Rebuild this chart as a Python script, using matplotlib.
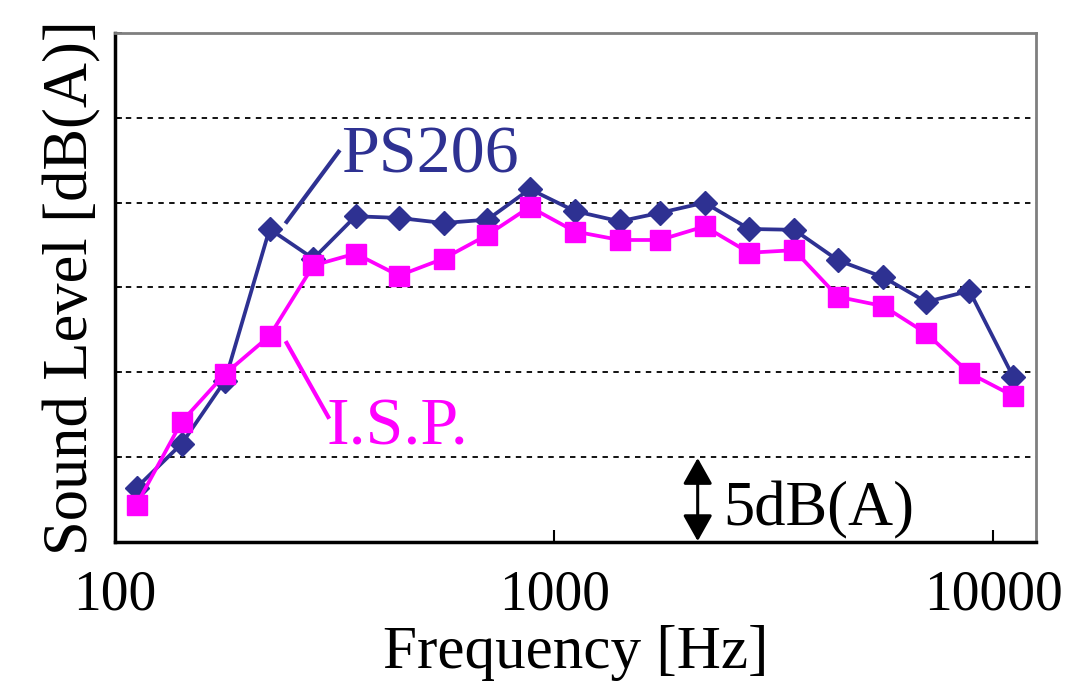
import matplotlib
matplotlib.use("Agg")
import matplotlib.pyplot as plt
from matplotlib.ticker import FixedLocator, NullLocator, NullFormatter

plt.rcParams['font.family'] = ['Liberation Serif', 'DejaVu Serif']

freq = [112, 142, 178, 225, 283, 353, 443, 560, 705, 880, 1115,
        1410, 1740, 2200, 2780, 3520, 4430, 5620, 7030, 8820, 11110]
ps206 = [3.2, 5.8, 9.5, 18.45, 16.7, 19.2, 19.1, 18.8, 19.0, 20.8, 19.5,
         18.9, 19.4, 20.0, 18.45, 18.4, 16.6, 15.6, 14.15, 14.8, 9.7]
isp = [2.2, 7.1, 9.9, 12.15, 16.3, 17.0, 15.7, 16.7, 18.1, 19.75, 18.3,
       17.8, 17.8, 18.6, 17.05, 17.2, 14.45, 13.9, 12.3, 9.95, 8.6]
xticks = [100, 1000, 10000]
xticklabels = ["100", "1000", "10000"]
grid_levels = [5, 10, 15, 20, 25]

navy = "#2E3192"
magenta = "#FF00FF"

fig = plt.figure(figsize=(10.74, 6.85), dpi=100)
ax = fig.add_axes([0.107, 0.2088, 0.8576, 0.743])

ax.set_xscale('log')
ax.set_xlim(100, 12500)
ax.set_ylim(0, 30)

for g in grid_levels:
    ax.axhline(g, color='black', linestyle=(0, (3, 3)), linewidth=1.3, zorder=1)

ax.plot(freq, ps206, color=navy, linewidth=2.7, marker='D', markersize=12,
        markerfacecolor=navy, markeredgecolor=navy, zorder=3)
ax.plot(freq, isp, color=magenta, linewidth=2.7, marker='s', markersize=14,
        markerfacecolor=magenta, markeredgecolor=magenta, zorder=4)

ax.xaxis.set_major_locator(FixedLocator(xticks))
ax.set_xticklabels(xticklabels)
ax.xaxis.set_minor_locator(NullLocator())
ax.xaxis.set_minor_formatter(NullFormatter())
ax.tick_params(axis='x', which='major', direction='in', length=9, width=1.5,
               labelsize=40, pad=20)
ax.yaxis.set_major_locator(FixedLocator([0, 5, 10, 15, 20, 25, 30]))
ax.tick_params(axis='y', direction='in', length=5, width=1.2, labelleft=False)

for side in ['left', 'bottom']:
    ax.spines[side].set_color('black')
    ax.spines[side].set_linewidth(2.5)
for side in ['top', 'right']:
    ax.spines[side].set_color('#7f7f7f')
    ax.spines[side].set_linewidth(2.0)

ax.set_xlabel("Frequency [Hz]", fontsize=44, labelpad=2)
ax.set_ylabel("Sound Level [dB(A)]", fontsize=45, labelpad=10)

# Series labels with leader lines
ax.plot([246, 323], [18.87, 23.0], color=navy, linewidth=3, zorder=2)
ax.text(328, 21.76, "PS206", color=navy, fontsize=49, va='baseline', ha='left')
ax.plot([246, 306], [11.73, 7.37], color=magenta, linewidth=3, zorder=2)
ax.text(303, 5.72, "I.S.P.", color=magenta, fontsize=49, va='baseline', ha='left')

# 5 dB(A) scale arrow
ax.annotate("", xy=(2122, 0.05), xytext=(2122, 4.95),
            arrowprops=dict(arrowstyle='<|-|>,head_length=0.8,head_width=0.45',
                            color='black', lw=2.2,
                            mutation_scale=20, shrinkA=0, shrinkB=0))
ax.text(2432, 1.0, "5dB(A)", color='black', fontsize=45, va='baseline', ha='left')

fig.savefig("out.png", dpi=100)
